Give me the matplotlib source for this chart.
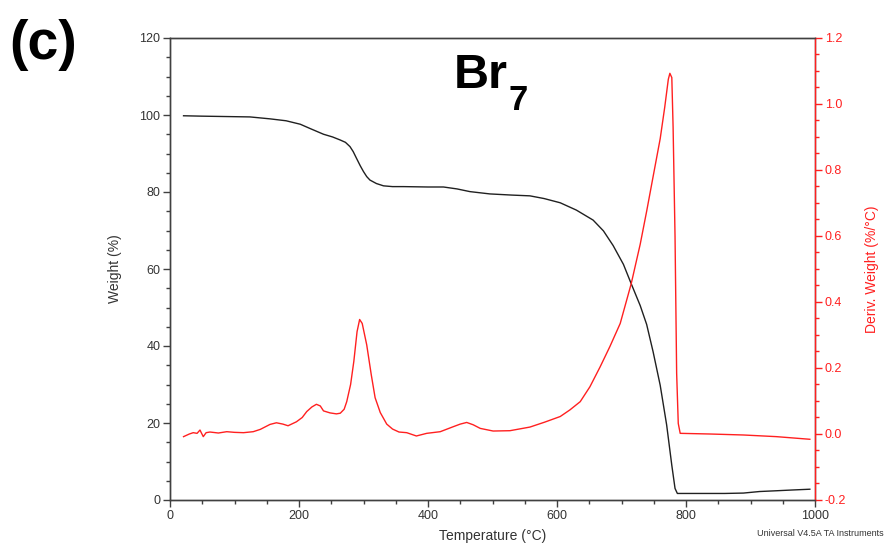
import matplotlib
matplotlib.use("Agg")
import matplotlib.pyplot as plt
from matplotlib.ticker import MultipleLocator

plt.rcParams['font.family'] = ['Liberation Sans', 'DejaVu Sans']

# Weight (%) vs temperature (°C)
temp_w = [21, 49, 124, 155, 180, 202, 217, 238, 252, 264, 272, 279, 284, 289, 295, 300, 305, 310,
          320, 331, 345, 362, 400, 424, 445, 465, 496, 530, 558, 580, 605, 630, 656, 672, 687,
          703, 715, 729, 739, 749, 760, 770, 778, 783, 786.6, 820, 860, 889, 914, 940, 965, 992]
weight = [99.8, 99.7, 99.5, 99.0, 98.5, 97.6, 96.5, 95.0, 94.3, 93.5, 92.9, 91.8, 90.5, 88.8, 86.8,
          85.3, 84.0, 83.1, 82.2, 81.6, 81.4, 81.4, 81.3, 81.3, 80.8, 80.1, 79.5, 79.2, 79.0, 78.3,
          77.2, 75.3, 72.7, 69.9, 66.1, 61.2, 56.2, 50.5, 45.6, 38.5, 29.8, 19.5, 9.0, 3.0, 1.7,
          1.7, 1.7, 1.8, 2.2, 2.4, 2.6, 2.8]

# Derivative weight (%/°C) vs temperature (°C)
temp_d = [21, 30, 36, 42, 46.5, 49, 51.6, 56, 62, 75, 88, 100, 114, 129, 140, 155, 165, 175, 183,
          196, 205, 212, 220, 227, 233, 238, 248, 258, 264, 270, 274, 280, 285, 290, 294, 298, 305,
          312, 318, 326, 336, 345, 355, 367, 382, 398, 419, 439, 450, 460, 470, 481, 501, 527,
          558, 581, 605, 620, 636, 651, 667, 682, 698, 715, 729, 739, 749, 760, 767, 772.6, 775,
          778, 780, 783, 785.5, 788, 791, 837, 889, 940, 992]
deriv = [-0.008, 0.0, 0.004, 0.002, 0.012, 0.002, -0.008, 0.004, 0.006, 0.003, 0.007, 0.005,
         0.004, 0.007, 0.014, 0.029, 0.034, 0.030, 0.025, 0.037, 0.05, 0.068, 0.082, 0.09, 0.085,
         0.07, 0.064, 0.061, 0.063, 0.075, 0.098, 0.15, 0.22, 0.31, 0.347, 0.335, 0.27,
         0.18, 0.11, 0.065, 0.03, 0.015, 0.006, 0.004, -0.006, 0.002, 0.007, 0.022, 0.030, 0.035,
         0.028, 0.017, 0.009, 0.010, 0.021, 0.036, 0.053, 0.073, 0.098, 0.143, 0.204, 0.265,
         0.335, 0.455, 0.575, 0.675, 0.78, 0.895, 0.99, 1.075, 1.093, 1.08, 0.93, 0.598,
         0.184, 0.032, 0.002, 0.0, -0.003, -0.008, -0.016]

x_ticks = [0, 200, 400, 600, 800, 1000]
w_ticks = [0, 20, 40, 60, 80, 100, 120]
d_ticks = [-0.2, 0.0, 0.2, 0.4, 0.6, 0.8, 1.0, 1.2]

RED = '#ff2020'
GRAY = '#404040'

fig = plt.figure(figsize=(8.86, 5.44), dpi=100)
ax = fig.add_axes([170/886, 1-500/544, 645/886, 462/544])
ax2 = ax.twinx()

ax.plot(temp_w, weight, color='#202020', lw=1.0)
ax2.plot(temp_d, deriv, color=RED, lw=1.0)

ax.set_xlim(0, 1000)
ax.set_ylim(0, 120)
ax2.set_ylim(-0.2, 1.2)

ax.set_xticks(x_ticks)
ax.set_yticks(w_ticks)
ax2.set_yticks(d_ticks)
ax2.set_yticklabels([f"{v:.1f}" for v in d_ticks])
ax.xaxis.set_minor_locator(MultipleLocator(50))
ax.yaxis.set_minor_locator(MultipleLocator(5))
ax2.yaxis.set_minor_locator(MultipleLocator(0.05))

for a in (ax, ax2):
    for s in a.spines.values():
        s.set_color(GRAY)
        s.set_linewidth(1.0)
ax2.spines['right'].set_color(RED)

ax.tick_params(axis='both', which='major', direction='out', length=5, width=1, colors=GRAY,
               labelsize=9, labelcolor='#333333', pad=2)
ax.tick_params(axis='both', which='minor', direction='out', length=3, width=1, colors=GRAY)
ax2.tick_params(axis='y', which='major', direction='out', length=5, width=1, colors=RED,
                labelsize=9, labelcolor=RED, pad=2)
ax2.tick_params(axis='y', which='minor', direction='out', length=3, width=1, colors=RED)

ax.set_xlabel('Temperature (°C)', fontsize=10, color='#333333')
ax.set_ylabel('Weight (%)', fontsize=10, color='#333333')
ax2.set_ylabel('Deriv. Weight (%/°C)', fontsize=10, color=RED)
ax.xaxis.set_label_coords(0.5, -0.062)
ax.yaxis.set_label_coords(-0.074, 0.5)
ax2.yaxis.set_label_coords(1.077, 0.5)

fig.text(9/886, 1-45/544, '(c)', fontsize=40, fontweight='bold', va='center', ha='left')
fig.text(454/886, 1-88/544, 'Br', fontsize=35, fontweight='bold', va='baseline', ha='left')
fig.text(509/886, 1-110/544, '7', fontsize=25, fontweight='bold', va='baseline', ha='left')
fig.text(884/886, 1-533/544, 'Universal V4.5A TA Instruments', fontsize=6.5, ha='right',
         va='center', color='#333333')

fig.savefig('out.png', dpi=100)
